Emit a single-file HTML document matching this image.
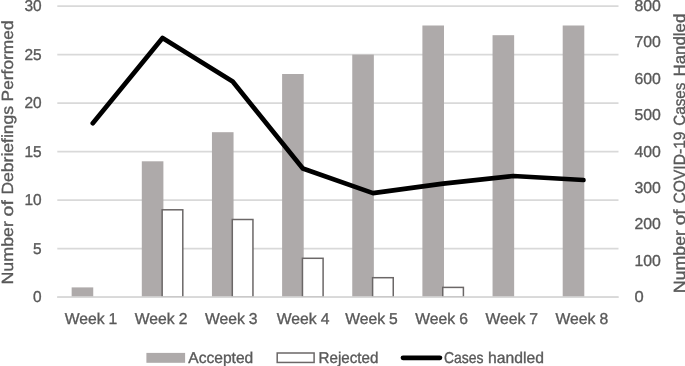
<!DOCTYPE html>
<html lang="en"><head><meta charset="utf-8"><title>Debriefings chart</title>
<style>html,body{margin:0;padding:0;background:#fff;}body{width:685px;height:366px;overflow:hidden;}svg{display:block;}text{font-family:"Liberation Sans",sans-serif;fill:#595959;stroke:#595959;stroke-width:0.35px;text-rendering:geometricPrecision;}</style></head><body>
<svg width="685" height="366" viewBox="0 0 685 366">
<rect width="685" height="366" fill="#ffffff"/>
<g stroke="#d9d9d9" stroke-width="1.6" fill="none">
<line x1="57.30" y1="297.10" x2="618.50" y2="297.10"/>
<line x1="57.30" y1="248.60" x2="618.50" y2="248.60"/>
<line x1="57.30" y1="200.10" x2="618.50" y2="200.10"/>
<line x1="57.30" y1="151.60" x2="618.50" y2="151.60"/>
<line x1="57.30" y1="103.10" x2="618.50" y2="103.10"/>
<line x1="57.30" y1="54.60" x2="618.50" y2="54.60"/>
<line x1="57.30" y1="6.10" x2="618.50" y2="6.10"/>
</g>
<g fill="#aeaaaa">
<rect x="71.65" y="287.40" width="21.60" height="9.70"/>
<rect x="141.80" y="161.30" width="21.60" height="135.80"/>
<rect x="211.95" y="132.20" width="21.60" height="164.90"/>
<rect x="282.10" y="74.00" width="21.60" height="223.10"/>
<rect x="352.25" y="54.60" width="21.60" height="242.50"/>
<rect x="422.40" y="25.50" width="21.60" height="271.60"/>
<rect x="492.55" y="35.20" width="21.60" height="261.90"/>
<rect x="562.70" y="25.50" width="21.60" height="271.60"/>
</g>
<g fill="#ffffff" stroke="#6b6767" stroke-width="1.5">
<rect x="162.15" y="209.80" width="20.65" height="87.30"/>
<rect x="232.30" y="219.50" width="20.65" height="77.60"/>
<rect x="302.45" y="258.30" width="20.65" height="38.80"/>
<rect x="372.60" y="277.70" width="20.65" height="19.40"/>
<rect x="442.75" y="287.40" width="20.65" height="9.70"/>
</g>
<line x1="57.30" y1="297.10" x2="618.50" y2="297.10" stroke="#d9d9d9" stroke-width="1.6"/>
<polyline points="92.78,123.27 162.53,37.93 232.68,81.47 302.83,168.56 372.98,193.15 443.13,183.68 513.27,176.00 583.42,180.00" fill="none" stroke="#000000" stroke-width="4.7" stroke-linecap="round" stroke-linejoin="round"/>
<g font-size="15.7" text-anchor="end">
<text x="41.6" y="302.05" textLength="8.6" lengthAdjust="spacingAndGlyphs">0</text>
<text x="41.6" y="253.55" textLength="8.6" lengthAdjust="spacingAndGlyphs">5</text>
<text x="41.6" y="205.05" textLength="17.2" lengthAdjust="spacingAndGlyphs">10</text>
<text x="41.6" y="156.55" textLength="17.2" lengthAdjust="spacingAndGlyphs">15</text>
<text x="41.6" y="108.05" textLength="17.2" lengthAdjust="spacingAndGlyphs">20</text>
<text x="41.6" y="59.55" textLength="17.2" lengthAdjust="spacingAndGlyphs">25</text>
<text x="41.6" y="11.05" textLength="17.2" lengthAdjust="spacingAndGlyphs">30</text>
</g>
<g font-size="15.7" text-anchor="start">
<text x="634.5" y="302.05" textLength="9.2" lengthAdjust="spacingAndGlyphs">0</text>
<text x="634.5" y="265.68" textLength="26.4" lengthAdjust="spacingAndGlyphs">100</text>
<text x="634.5" y="229.30" textLength="26.4" lengthAdjust="spacingAndGlyphs">200</text>
<text x="634.5" y="192.93" textLength="26.4" lengthAdjust="spacingAndGlyphs">300</text>
<text x="634.5" y="156.55" textLength="26.4" lengthAdjust="spacingAndGlyphs">400</text>
<text x="634.5" y="120.18" textLength="26.4" lengthAdjust="spacingAndGlyphs">500</text>
<text x="634.5" y="83.80" textLength="26.4" lengthAdjust="spacingAndGlyphs">600</text>
<text x="634.5" y="47.43" textLength="26.4" lengthAdjust="spacingAndGlyphs">700</text>
<text x="634.5" y="11.05" textLength="26.4" lengthAdjust="spacingAndGlyphs">800</text>
</g>
<g font-size="15.7" text-anchor="start">
<text y="324.3"><tspan x="64.70" textLength="39.9" lengthAdjust="spacingAndGlyphs">Week</tspan> <tspan x="108.60">1</tspan></text>
<text y="324.3"><tspan x="134.82" textLength="39.9" lengthAdjust="spacingAndGlyphs">Week</tspan> <tspan x="178.72">2</tspan></text>
<text y="324.3"><tspan x="204.94" textLength="39.9" lengthAdjust="spacingAndGlyphs">Week</tspan> <tspan x="248.84">3</tspan></text>
<text y="324.3"><tspan x="276.76" textLength="39.9" lengthAdjust="spacingAndGlyphs">Week</tspan> <tspan x="320.66">4</tspan></text>
<text y="324.3"><tspan x="345.18" textLength="39.9" lengthAdjust="spacingAndGlyphs">Week</tspan> <tspan x="389.08">5</tspan></text>
<text y="324.3"><tspan x="415.30" textLength="39.9" lengthAdjust="spacingAndGlyphs">Week</tspan> <tspan x="459.20">6</tspan></text>
<text y="324.3"><tspan x="485.42" textLength="39.9" lengthAdjust="spacingAndGlyphs">Week</tspan> <tspan x="529.32">7</tspan></text>
<text y="324.3"><tspan x="555.54" textLength="39.9" lengthAdjust="spacingAndGlyphs">Week</tspan> <tspan x="599.44">8</tspan></text>
</g>
<text font-size="16.2" text-anchor="start" transform="translate(13.20,0) rotate(-90)"><tspan x="-284.50" textLength="63.40" lengthAdjust="spacingAndGlyphs">Number</tspan> <tspan x="-216.40" textLength="16.20" lengthAdjust="spacingAndGlyphs">of</tspan> <tspan x="-194.60" textLength="88.70" lengthAdjust="spacingAndGlyphs">Debriefings</tspan> <tspan x="-101.40" textLength="81.00" lengthAdjust="spacingAndGlyphs">Performed</tspan></text>
<text font-size="16.2" text-anchor="start" transform="translate(684.60,0) rotate(-90)"><tspan x="-293.30" textLength="63.30" lengthAdjust="spacingAndGlyphs">Number</tspan> <tspan x="-225.30" textLength="15.80" lengthAdjust="spacingAndGlyphs">of</tspan> <tspan x="-203.50" textLength="72.00" lengthAdjust="spacingAndGlyphs">COVID-19</tspan> <tspan x="-125.80" textLength="43.20" lengthAdjust="spacingAndGlyphs">Cases</tspan> <tspan x="-76.50" textLength="62.80" lengthAdjust="spacingAndGlyphs">Handled</tspan></text>
<rect x="146.4" y="352.9" width="38.7" height="9.9" fill="#aeaaaa"/>
<text font-size="15.7" x="188.3" y="362.5" textLength="65" lengthAdjust="spacingAndGlyphs">Accepted</text>
<rect x="277.2" y="353.0" width="36.9" height="9.45" fill="#ffffff" stroke="#6b6767" stroke-width="1.5"/>
<text font-size="15.7" x="318.5" y="362.5" textLength="59.9" lengthAdjust="spacingAndGlyphs">Rejected</text>
<line x1="403" y1="357.8" x2="439.9" y2="357.8" stroke="#000" stroke-width="4.8" stroke-linecap="round"/>
<text font-size="15.7" y="362.5"><tspan x="443.9" textLength="39.6" lengthAdjust="spacingAndGlyphs">Cases</tspan> <tspan x="488.1" textLength="55.9" lengthAdjust="spacingAndGlyphs">handled</tspan></text>
</svg></body></html>
